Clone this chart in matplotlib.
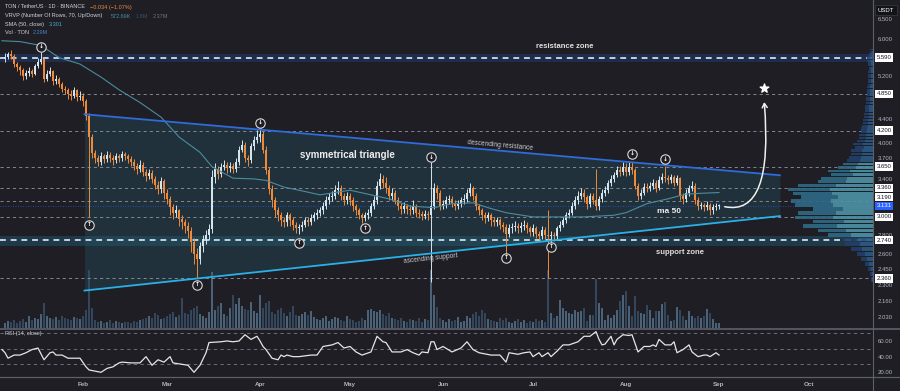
import numpy as np
import matplotlib
matplotlib.use("Agg")
import matplotlib.pyplot as plt
import matplotlib.transforms as mtransforms
from matplotlib.lines import Line2D
from matplotlib.patches import FancyArrowPatch

# day numbers: 0 = 1 Jan 2025, one candle per day
first_day = 5
first_open = 5.55

close = [
    5.60, 5.66, 5.62, 5.45, 5.38, 5.32, 5.20, 5.26, 5.30, 5.25,
    5.40, 5.50, 5.55, 5.15, 5.25, 5.30, 5.10, 5.15, 5.05, 4.95,
    4.92, 4.85, 4.82, 4.92, 4.80, 4.82, 4.72, 4.45, 4.10, 3.85,
    3.78, 3.72, 3.80, 3.76, 3.82, 3.78, 3.74, 3.80, 3.77, 3.83,
    3.80, 3.76, 3.72, 3.66, 3.62, 3.68, 3.58, 3.52, 3.56, 3.48,
    3.40, 3.35, 3.45, 3.30, 3.22, 3.12, 3.05, 3.08, 2.98, 2.94,
    2.90, 2.84, 2.72, 2.60, 2.55, 2.68, 2.75, 2.80, 2.86, 3.50,
    3.62, 3.55, 3.65, 3.68, 3.63, 3.66, 3.62, 3.72, 3.90, 3.98,
    3.78, 3.74, 3.95, 4.05, 4.10, 4.15, 3.90, 3.60, 3.35, 3.20,
    3.08, 3.02, 2.96, 2.94, 3.02, 2.96, 2.91, 2.87, 2.88, 2.91,
    2.96, 2.94, 2.99, 3.02, 3.05, 3.08, 3.13, 3.20, 3.24, 3.26,
    3.33, 3.36, 3.26, 3.20, 3.26, 3.20, 3.13, 3.08, 3.02, 2.99,
    3.02, 3.05, 3.13, 3.20, 3.39, 3.48, 3.43, 3.36, 3.26, 3.30,
    3.20, 3.13, 3.09, 3.13, 3.09, 3.08, 3.13, 3.05, 3.04, 3.01,
    3.04, 3.02, 3.13, 3.36, 3.30, 3.13, 3.15, 3.20, 3.22, 3.17,
    3.13, 3.15, 3.20, 3.22, 3.30, 3.36, 3.26, 3.13, 3.08, 3.02,
    2.99, 3.02, 2.96, 2.94, 2.96, 2.91, 2.88, 2.81, 2.87, 2.88,
    2.90, 2.87, 2.89, 2.91, 2.87, 2.83, 2.87, 2.81, 2.79, 2.85,
    2.80, 2.78, 2.80, 2.78, 2.87, 2.91, 2.96, 3.02, 3.05, 3.13,
    3.20, 3.26, 3.30, 3.24, 3.15, 3.26, 3.20, 3.13, 3.22, 3.30,
    3.33, 3.42, 3.48, 3.53, 3.60, 3.57, 3.64, 3.57, 3.64, 3.60,
    3.39, 3.26, 3.30, 3.37, 3.36, 3.39, 3.42, 3.36, 3.46, 3.51,
    3.49, 3.46, 3.50, 3.43, 3.49, 3.26, 3.22, 3.30, 3.36, 3.39,
    3.20, 3.13, 3.14, 3.12, 3.14, 3.08, 3.12, 3.13, 3.131,
]
high = [
    5.68, 5.72, 5.75, 5.66, 5.50, 5.42, 5.36, 5.32, 5.38, 5.35,
    5.45, 5.58, 5.72, 5.58, 5.32, 5.38, 5.32, 5.22, 5.18, 5.08,
    5.00, 4.96, 4.92, 4.98, 4.95, 4.90, 4.86, 4.75, 4.50, 4.15,
    3.90, 3.82, 3.86, 3.84, 3.88, 3.86, 3.82, 3.85, 3.84, 3.88,
    3.86, 3.84, 3.80, 3.76, 3.70, 3.74, 3.72, 3.62, 3.62, 3.60,
    3.52, 3.45, 3.50, 3.48, 3.34, 3.26, 3.16, 3.14, 3.10, 3.02,
    2.98, 2.94, 2.88, 2.76, 2.66, 2.72, 2.80, 2.85, 2.92, 3.60,
    3.70, 3.66, 3.70, 3.74, 3.72, 3.72, 3.70, 3.78, 3.96, 4.05,
    4.02, 3.82, 4.00, 4.12, 4.22, 4.25, 4.20, 3.95, 3.65, 3.40,
    3.24, 3.12, 3.06, 3.00, 3.06, 3.05, 3.00, 2.94, 2.92, 2.95,
    3.00, 3.00, 3.03, 3.06, 3.10, 3.12, 3.18, 3.25, 3.30, 3.32,
    3.40, 3.45, 3.40, 3.30, 3.31, 3.29, 3.24, 3.16, 3.11, 3.05,
    3.06, 3.09, 3.17, 3.26, 3.45, 3.56, 3.54, 3.50, 3.40, 3.36,
    3.33, 3.24, 3.17, 3.18, 3.16, 3.14, 3.20, 3.16, 3.09, 3.07,
    3.08, 3.07, 3.72, 3.42, 3.40, 3.33, 3.20, 3.25, 3.27, 3.25,
    3.20, 3.20, 3.24, 3.28, 3.34, 3.42, 3.39, 3.30, 3.16, 3.11,
    3.06, 3.06, 3.05, 3.00, 3.00, 2.99, 2.94, 2.92, 2.92, 2.93,
    2.95, 2.93, 2.94, 2.96, 2.94, 2.90, 2.92, 2.90, 2.84, 2.89,
    2.88, 3.08, 2.84, 2.83, 2.90, 2.95, 3.00, 3.06, 3.10, 3.18,
    3.25, 3.32, 3.36, 3.34, 3.27, 3.30, 3.30, 3.62, 3.26, 3.34,
    3.38, 3.47, 3.53, 3.58, 3.66, 3.66, 3.72, 3.70, 3.72, 3.72,
    3.63, 3.42, 3.35, 3.42, 3.42, 3.44, 3.48, 3.46, 3.52, 3.56,
    3.66, 3.54, 3.55, 3.53, 3.54, 3.51, 3.30, 3.34, 3.40, 3.45,
    3.42, 3.24, 3.18, 3.17, 3.19, 3.17, 3.15, 3.17, 3.16,
]
low = [
    5.50, 5.56, 5.55, 5.38, 5.30, 5.22, 5.12, 5.15, 5.20, 5.18,
    5.22, 5.36, 5.45, 5.08, 5.10, 5.20, 5.02, 5.04, 4.98, 4.88,
    4.84, 4.76, 4.74, 4.78, 4.72, 4.74, 4.62, 4.38, 3.00, 3.78,
    3.70, 3.66, 3.68, 3.70, 3.72, 3.72, 3.68, 3.70, 3.72, 3.73,
    3.74, 3.70, 3.66, 3.60, 3.55, 3.58, 3.52, 3.45, 3.48, 3.42,
    3.34, 3.28, 3.30, 3.22, 3.15, 3.02, 2.98, 3.00, 2.90, 2.86,
    2.82, 2.76, 2.62, 2.50, 2.36, 2.50, 2.62, 2.70, 2.74, 2.82,
    3.42, 3.48, 3.50, 3.60, 3.56, 3.58, 3.56, 3.58, 3.68, 3.86,
    3.72, 3.66, 3.70, 3.90, 4.00, 4.02, 3.85, 3.55, 3.28, 3.12,
    3.00, 2.95, 2.90, 2.88, 2.90, 2.90, 2.85, 2.82, 2.81, 2.84,
    2.88, 2.90, 2.91, 2.95, 2.98, 3.01, 3.04, 3.10, 3.16, 3.19,
    3.22, 3.28, 3.20, 3.14, 3.16, 3.14, 3.07, 3.02, 2.97, 2.93,
    2.95, 2.98, 3.01, 3.09, 3.16, 3.35, 3.36, 3.30, 3.20, 3.21,
    3.15, 3.08, 3.03, 3.05, 3.03, 3.02, 3.04, 3.00, 2.99, 2.96,
    2.97, 2.96, 2.33, 3.10, 3.22, 3.08, 3.09, 3.11, 3.16, 3.12,
    3.08, 3.10, 3.12, 3.16, 3.18, 3.26, 3.20, 3.08, 3.02, 2.96,
    2.93, 2.95, 2.90, 2.89, 2.90, 2.86, 2.83, 2.60, 2.77, 2.82,
    2.84, 2.82, 2.83, 2.85, 2.82, 2.78, 2.79, 2.76, 2.74, 2.75,
    2.75, 2.36, 2.72, 2.73, 2.75, 2.84, 2.88, 2.93, 2.99, 3.02,
    3.10, 3.16, 3.22, 3.18, 3.10, 3.12, 3.15, 3.08, 3.08, 3.18,
    3.26, 3.30, 3.38, 3.44, 3.50, 3.52, 3.54, 3.52, 3.54, 3.55,
    3.34, 3.20, 3.22, 3.27, 3.31, 3.32, 3.35, 3.31, 3.33, 3.43,
    3.44, 3.41, 3.42, 3.38, 3.40, 3.21, 3.16, 3.18, 3.26, 3.32,
    3.15, 3.08, 3.09, 3.07, 3.08, 3.02, 3.03, 3.08, 3.10,
]
# volume, millions of TON
volume = [
    2.5, 3.5, 3, 4, 2.5, 3.5, 4.5, 3, 6, 4,
    5, 4.5, 7, 12.5, 6, 5, 4.5, 5.5, 4, 6,
    5, 4.5, 4, 5.5, 5, 4.5, 6, 9, 29, 10,
    4, 3, 3.5, 2.5, 3, 4, 2.5, 3.5, 3, 2.5,
    3, 3, 2.5, 3.5, 3, 4, 4.5, 5, 6, 5,
    7.5, 6.5, 4.5, 5, 6, 7, 8, 5.5, 6.5, 15,
    7.5, 7, 9, 10, 11, 7, 6, 5, 8, 28,
    9, 11, 12.5, 7, 6, 10, 16.5, 12, 15, 11,
    9.5, 9, 13, 8.5, 7.5, 16.5, 10, 12.5, 13.5, 8,
    7, 9, 10, 7.5, 6, 8, 11, 6.5, 6, 7,
    8, 6.5, 8.5, 5.5, 4.5, 4, 5, 6, 3.5, 4.5,
    5.5, 5, 4, 3.5, 6, 4.5, 4, 3, 3.5, 5,
    4, 9, 9.5, 8.5, 8, 9, 7, 6, 7.5, 5,
    4.5, 4, 5, 3.5, 3, 4.5, 4, 3.5, 5, 3,
    4.5, 4, 29, 16.5, 10.5, 5, 4, 3, 4.5, 3.5,
    4, 5.5, 3, 3.5, 6, 5, 7, 8, 6, 9,
    7.5, 4.5, 4, 3.5, 3, 5, 4, 5, 3, 2.5,
    3.5, 4.5, 3, 4, 2.5, 3.5, 3, 4.5, 3.5, 4,
    3, 29, 7.5, 5, 6, 14, 10, 8.5, 7.5, 7,
    9, 8, 8.5, 10, 3.5, 6.5, 6.5, 24.5, 12.5, 10,
    4, 6.5, 5, 6.5, 9, 13.5, 16.5, 18.5, 11, 6,
    16, 8.5, 7.5, 7, 11.5, 9, 5, 8.5, 8.5, 12,
    13, 6.5, 3.5, 4, 10.5, 9, 6, 4, 8.5, 6,
    5, 6, 5, 6, 9.5, 7.5, 4.5, 2.5, 2.29,
]

rsi_day = [
    4, 5, 6, 8, 10, 12, 14, 16, 18, 20, 21, 22, 24, 26, 28, 30, 32, 33, 37, 39,
    41, 43, 44, 47, 50, 52, 54, 56, 58, 60, 61, 66, 68, 70, 72, 73, 77, 79, 81, 83,
    85, 87, 89, 90, 91, 92, 94, 96, 97, 98, 99, 101, 103, 107, 109, 111, 114, 116, 118, 120,
    122, 124, 127, 129, 131, 132, 134, 137, 139, 141, 143, 144, 146, 147, 148, 149, 151, 154, 157, 159,
    161, 163, 167, 170, 172, 173, 176, 178, 180, 181, 183, 184, 186, 187, 189, 191, 193, 196, 198, 200,
    202, 203, 204, 205, 207, 208, 209, 211, 213, 214, 216, 218, 220, 221, 222, 223, 225, 227, 228, 229,
    231, 233, 234, 236, 238, 239, 240, 242, 243,
]
rsi_val = [
    49, 45, 38, 42, 42, 45, 49, 51, 36, 45, 46, 42, 42, 38, 38, 38, 27, 23, 20, 25,
    27, 32, 33, 32, 32, 40, 29, 36, 33, 40, 32, 29, 20, 29, 45, 58, 59, 60, 59, 60,
    68, 62, 66, 60, 53, 49, 38, 36, 42, 40, 42, 40, 40, 42, 42, 53, 55, 58, 51, 53,
    46, 42, 46, 66, 59, 58, 46, 46, 49, 45, 42, 46, 45, 59, 59, 49, 53, 46, 51, 59,
    49, 45, 42, 42, 33, 45, 43, 45, 46, 40, 45, 40, 45, 40, 47, 55, 55, 59, 66, 66,
    72, 62, 55, 56, 66, 55, 62, 68, 67, 68, 46, 53, 53, 55, 53, 62, 55, 55, 59, 45,
    49, 55, 46, 40, 42, 42, 40, 45, 42,
]

sma_day = [4, 10, 17, 23, 30, 37, 43, 50, 57, 63, 70, 74, 81, 88, 92, 98, 103, 110, 120,
           127, 133, 140, 148, 154, 161, 166, 172, 181, 189, 198, 208, 212, 219, 226,
           232, 237, 243]
sma_val = [5.97, 5.95, 5.86, 5.59, 5.45, 5.18, 4.93, 4.69, 4.43, 4.10, 3.86, 3.65, 3.49,
           3.48, 3.46, 3.37, 3.33, 3.27, 3.33, 3.27, 3.22, 3.13, 3.11, 3.16, 3.17, 3.11,
           3.05, 3.00, 3.00, 3.00, 3.02, 3.05, 3.16, 3.22, 3.28, 3.29, 3.30]

month_day = [31, 59, 90, 120, 151, 181, 212, 243, 273]
month_lbl = ["Feb", "Mar", "Apr", "May", "Jun", "Jul", "Aug", "Sep", "Oct"]

price_ticks = [6.5, 6.0, 5.2, 4.4, 4.0, 2.8, 2.6, 2.45, 2.3, 2.16, 2.03]
crowded_ticks = [3.7, 3.4]          # half hidden by level boxes, lifted a little
level_lines = [4.85, 4.20, 3.65, 3.36, 3.19, 3.00, 2.36]
level_labels = [5.59, 4.85, 4.20, 3.65, 3.36, 3.19, 3.00, 2.74, 2.36]
last_price = 3.131

res_zone = [5.49, 5.59, 5.66]
sup_zone = [2.68, 2.74, 2.79]

tri_day = [31.5, 263.3]
tri_res = [4.48, 3.53]
tri_sup = [2.25, 3.01]

piv_hi_day = [17, 90, 147, 214, 225]
piv_hi_px = [5.83, 4.33, 3.79, 3.84, 3.76]
piv_lo_day = [33, 69, 103, 125, 172, 187]
piv_lo_px = [2.91, 2.30, 2.71, 2.87, 2.56, 2.67]

target_from = (244, 3.13)
target_to = (258, 4.75)
target_star = (258, 4.96)

# visible range volume profile, 70 rows (relative size, px-ish)
vp_lo, vp_hi = 2.33, 5.80
vp_up = [
    1, 1, 2, 4, 6, 8, 11, 13, 15, 22,
    27, 36, 29, 40, 37, 30, 40, 42, 35, 41,
    43, 37, 27, 26, 20, 23, 17, 15, 13, 12,
    11, 11, 9, 10, 8, 7, 7, 6, 6, 5,
    5, 5, 4, 4, 4, 4, 4, 3, 3, 3,
    3, 3, 3, 3, 2, 2, 2, 2, 2, 2,
    2, 2, 2, 2, 3, 3, 2, 2, 1, 1,
]
vp_dn = [
    1, 2, 3, 4, 6, 8, 11, 15, 15, 23,
    28, 34, 31, 38, 38, 30, 38, 40, 37, 39,
    42, 38, 28, 26, 22, 22, 18, 15, 13, 12,
    11, 11, 9, 10, 8, 7, 7, 6, 6, 6,
    5, 5, 5, 5, 4, 4, 4, 4, 4, 4,
    3, 3, 3, 3, 3, 3, 3, 3, 3, 3,
    2, 2, 3, 3, 3, 3, 3, 2, 2, 2,
]
vp_value_rows = (9, 27)

# ---------------------------------------------------------------- style
BG = "#1e1e24"
TXT = "#d1d4dc"
AXTXT = "#b2b5be"
UP = "#d3e4ec"
DN = "#ee8a3a"
plt.rcParams["font.family"] = ["Liberation Sans", "DejaVu Sans"]

W, H = 900, 391
RIGHT = 873 / W
XL = (3.33, 294.33)
main_rect = [0, 1 - 328 / H, RIGHT, 328 / H]
rsi_rect = [0, 1 - 377 / H, RIGHT, 48 / H]

fig = plt.figure(figsize=(W / 100, H / 100), dpi=100, facecolor=BG)

days = np.arange(first_day, first_day + len(close))
c = np.array(close)
o = np.r_[first_open, c[:-1]]
rising = c >= o

# volume (bottom of the price pane)
ax_vol = fig.add_axes(main_rect)
ax_vol.axis("off")
ax_vol.bar(days, volume, width=0.55, linewidth=0,
           color=np.where(rising, "#4a6379", "#33465b"))
ax_vol.set_xlim(XL)
ax_vol.set_ylim(0, 164)

# price pane
ax = fig.add_axes(main_rect)
ax.set_facecolor("none")
ax.set_yscale("log")
ax.set_xlim(XL)
ax.set_ylim(1.944, 7.0)

ax.axhspan(res_zone[0], res_zone[2], color="#1e3a6e", alpha=0.55, lw=0, zorder=1)
ax.axhspan(sup_zone[0], sup_zone[2], color="#1f5770", alpha=0.5, lw=0, zorder=1)
ax.axhline(res_zone[1], color="#c9ced6", lw=1.4, ls=(0, (3, 2.5)), zorder=1.6)
ax.axhline(sup_zone[1], color="#c9ced6", lw=1.4, ls=(0, (3, 2.5)), zorder=1.6)
for lv in level_lines:
    ax.axhline(lv, color="#9598a1", lw=0.7, ls=(0, (3.2, 3.2)), alpha=0.85, zorder=1.5)
ax.axhline(last_price, color="#2962ff", lw=0.6, ls=(0, (1, 2)), alpha=0.8, zorder=1.5)

ax.fill_between(tri_day, tri_sup, tri_res, color="#2a5a6e", alpha=0.32, lw=0, zorder=1.2)

# candles
cols = np.where(rising, UP, DN)
ax.vlines(days, low, high, colors=cols, lw=0.7, zorder=3)
bottom = np.minimum(o, c)
height = np.maximum(np.abs(c - o), bottom * 0.004)
ax.bar(days, height, bottom=bottom, width=0.66, color=cols, linewidth=0, zorder=3.1)

ax.plot(sma_day, sma_val, color="#4a8c9e", lw=0.8, zorder=3.5)

ax.plot(tri_day, tri_res, color="#2f6bd9", lw=1.3, zorder=4)
ax.plot(tri_day, tri_sup, color="#2ab0e6", lw=1.3, zorder=4)

# pivot markers
for dd, pp, glyph in ([(a, b, "\u2193") for a, b in zip(piv_hi_day, piv_hi_px)]
                      + [(a, b, "\u2191") for a, b in zip(piv_lo_day, piv_lo_px)]):
    ax.scatter([dd], [pp], s=46, facecolor=BG, edgecolor="#d8d8d8", linewidth=0.8, zorder=5)
    ax.text(dd, pp, glyph, fontsize=4.3, family="DejaVu Sans", color="white",
            ha="center", va="center", fontweight="bold", zorder=6)

# projected move
arrow = FancyArrowPatch(target_from, target_to, connectionstyle="angle3,angleA=-15,angleB=95",
                        arrowstyle="->,head_length=3,head_width=1.8", color="#f0f0f0",
                        lw=1.1, zorder=6)
ax.add_patch(arrow)
ax.scatter([target_star[0]], [target_star[1]], marker="*", s=42, color="white", zorder=6)

# annotations
ax.text(119, 3.82, "symmetrical triangle", color="#ececec", fontsize=7, fontweight="bold",
        ha="center", va="center", zorder=6)
ax.text(170, 3.96, "descending resistance", color="#c8cad0", fontsize=4.8,
        rotation=-5.1, rotation_mode="anchor", ha="center", va="center", zorder=6)
ax.text(147, 2.545, "ascending support", color="#c8cad0", fontsize=4.8,
        rotation=6.1, rotation_mode="anchor", ha="center", va="center", zorder=6)
ax.text(191.7, 5.83, "resistance zone", color="#e0e0e0", fontsize=5.5, fontweight="bold",
        ha="center", va="center", zorder=6)
ax.text(230, 2.61, "support zone", color="#e0e0e0", fontsize=5.5, fontweight="bold",
        ha="center", va="center", zorder=6)
ax.text(226.3, 3.07, "ma 50", color="#ececec", fontsize=6, fontweight="bold",
        ha="center", va="center", zorder=6)

# price axis
for s in ax.spines.values():
    s.set_visible(False)
ax.yaxis.tick_right()
ax.set_yticks(price_ticks)
ax.set_yticklabels([f"{t:.3f}" for t in price_ticks])
ax.yaxis.set_minor_locator(matplotlib.ticker.NullLocator())
ax.tick_params(axis="y", length=0, pad=3.5, labelsize=4.3, labelcolor=AXTXT)
ax.set_xticks([])

ytr = ax.get_yaxis_transform()
for t in crowded_ticks:
    tr = mtransforms.offset_copy(ytr, fig=fig, x=5, y=5, units="dots")
    ax.text(1, t, f"{t:.3f}", transform=tr, fontsize=4.3, color=AXTXT,
            ha="left", va="center", clip_on=False, zorder=9)
for lv in level_labels:
    dy = 4 if lv == 3.19 else 0
    tr = mtransforms.offset_copy(ytr, fig=fig, x=3.5, y=dy, units="dots")
    ax.text(1, lv, f"{lv:.3f}", transform=tr, fontsize=4.3, color="#131722",
            ha="left", va="center", clip_on=False, zorder=10,
            bbox=dict(boxstyle="square,pad=0.3", fc="white", ec="none"))
tr = mtransforms.offset_copy(ytr, fig=fig, x=3.5, y=0, units="dots")
ax.text(1, last_price, f"{last_price:.3f}", transform=tr, fontsize=4.3, color="white",
        ha="left", va="center", clip_on=False, zorder=11,
        bbox=dict(boxstyle="square,pad=0.3", fc="#2962ff", ec="none"))

# volume profile
ax_vp = fig.add_axes(main_rect)
ax_vp.set_facecolor("none")
ax_vp.axis("off")
ax_vp.set_yscale("log")
ax_vp.set_ylim(1.944, 7.0)
ax_vp.set_xlim(873, 0)
edges = np.linspace(vp_lo, vp_hi, len(vp_up) + 1)
rows = np.arange(len(vp_up))
in_va = (rows >= vp_value_rows[0]) & (rows <= vp_value_rows[1])
hgt = np.diff(edges) * 0.82
ax_vp.barh(edges[:-1], vp_up, height=hgt, left=0, align="edge", linewidth=0,
           color=np.where(in_va, "#4d93a8", "#2c5a86"), alpha=0.9)
ax_vp.barh(edges[:-1], vp_dn, height=hgt, left=vp_up, align="edge", linewidth=0,
           color=np.where(in_va, "#2f6a88", "#233f6a"), alpha=0.9)

# RSI pane
ax_rsi = fig.add_axes(rsi_rect)
ax_rsi.set_facecolor("none")
for lv in (70, 50, 30):
    ax_rsi.axhline(lv, color="#787b86", lw=0.6, ls=(0, (4, 4)))
ax_rsi.plot(rsi_day, rsi_val, color="#e6e6e6", lw=0.9)
ax_rsi.set_xlim(XL)
ax_rsi.set_ylim(14, 75.3)
for s in ax_rsi.spines.values():
    s.set_visible(False)
ax_rsi.yaxis.tick_right()
ax_rsi.set_yticks([20, 40, 60])
ax_rsi.set_yticklabels(["20.00", "40.00", "60.00"])
ax_rsi.set_xticks(month_day)
ax_rsi.set_xticklabels(month_lbl, fontweight="bold")
ax_rsi.tick_params(axis="y", length=0, pad=3.5, labelsize=4.3, labelcolor=AXTXT)
ax_rsi.tick_params(axis="x", length=0, pad=3.5, labelsize=4.5, labelcolor=AXTXT)

# pane separators and price-scale border
for py, lw in ((328.5, 1.2), (377, 0.9)):
    fig.add_artist(Line2D([0, 1], [1 - py / H] * 2, transform=fig.transFigure,
                          color="#5d606b", lw=lw))
fig.add_artist(Line2D([RIGHT, RIGHT], [0, 1], transform=fig.transFigure,
                      color="#5d606b", lw=0.8))

# header / legend text
def run(px, py, s, color, size=4.0):
    fig.text(px / W, 1 - py / H, s, color=color, fontsize=size, ha="left", va="center")

run(5, 7, "TON / TetherUS \u00b7 1D \u00b7 BINANCE", TXT)
run(90, 7, "\u22120.034 (\u22121.07%)", "#ef8a3a")
run(5, 16, "VRVP (Number Of Rows, 70, Up/Down)", TXT)
run(111, 16, "572.69K", "#4d8ea3")
run(136, 16, "1.8M", "#3b4f63")
run(153, 16, "2.37M", "#6d7480")
run(5, 24.5, "SMA (50, close)", TXT)
run(49, 24.5, "3.301", "#4aa8c8")
run(5, 33, "Vol \u00b7 TON", TXT)
run(33, 33, "2.29M", "#4c7fc9")
run(5, 333, "RSI (14, close)", TXT)
fig.text(886 / W, 1 - 10 / H, "USDT", color="white", fontsize=4.3, ha="center", va="center",
         bbox=dict(boxstyle="square,pad=0.4", fc="#131418", ec="#3a3d45", lw=0.5))

fig.savefig("out.png", dpi=100, facecolor=BG)
